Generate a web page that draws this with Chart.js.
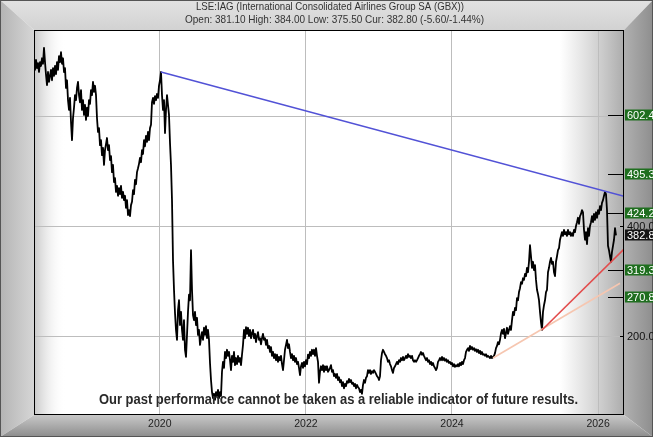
<!DOCTYPE html>
<html><head><meta charset="utf-8">
<script src="https://cdn.jsdelivr.net/npm/chart.js@4.4.1/dist/chart.umd.min.js"></script>
<style>html,body{margin:0;padding:0;background:#fff;}canvas{display:block;}</style>
</head><body>
<canvas id="c" width="653" height="437"></canvas>
<script>
// ---- data ----
const titleText = 'LSE:IAG (International Consolidated Airlines Group SA (GBX))';
const subtitleText = 'Open: 381.10 High: 384.00 Low: 375.50 Cur: 382.80 (-5.60/-1.44%)';
const disclaimerText = 'Our past performance cannot be taken as a reliable indicator of future results.';

const START_YEAR = 2018.2779;   // date of first sample, decimal year
const STEP_DAYS = 5;            // samples every 5 calendar days

const prices2018 = [698,684,702,687,696,680,698,691,705,695,724,698,675,656,680,662,673,684,665,687,673,691,676,698,684,709,698,716,695,705,680,687,651,665,629,611,633,589,556,596,615,638,629,651,662,638,625,647,611,629,602,620,593];
const prices2019 = [615,600,629,622,647,638,662,644,655,638,596,571,578,547,556,529,542,511,538,549,560,538,547,520,527,498,511,480,487,462,473,455,469,458,473,451,462,447,455,433,447,420,429,418,438,444,465,458,484,476,498,505,513,524,516,538,531,556,545,564,553,571,556,578,584,625,633,622,636,629,640,633,655];
const prices2020 = [665,680,638,611,629,569,611,638,620,602,551,511,447,338,284,242,211,193,247,265,220,244,211,193,229,175,162,202,244,275,265,356,284,238,229,244,220,233,202,211,184,196,207,193,215,202,218,196,211,193,151,120,98,87,95,84,98,91,102,87,98,91,135,153,142,171,160,175,164,171,156,138,164];
const prices2021 = [153,171,147,160,149,164,153,160,147,166,184,211,196,216,204,215,200,211,196,205,211,196,204,189,200,207,193,196,185,196,204,193,196,184,193,178,182,171,180,164,171,160,167,156,166,153,162,156,164,149,138,156,175,184,193,178,185,171,160,167,156,164,153,160,149,153,142,129,145,151,142,153,145];
const prices2022 = [156,149,166,160,171,164,175,167,175,164,178,164,153,115,135,145,138,147,135,145,138,145,135,138,142,147,135,138,127,131,124,131,120,125,116,120,109,116,105,113,109,118,115,122,116,120,113,115,109,113,105,111,107,105,98,102,95,111,120,115,124,127,138,133,138,131,136,133,138,135,131,127,125];
const prices2023 = [120,127,156,169,175,171,167,164,160,153,156,149,145,138,133,142,145,149,153,149,156,153,160,156,162,156,160,164,160,167,162,164,160,164,156,153,156,153,156,160,164,167,171,166,169,164,160,156,160,153,156,149,153,147,151,145,142,138,142,153,156,160,156,162,156,160,155,158,153,156,151,153,149];
const prices2024 = [151,145,149,144,147,145,149,145,151,147,153,149,156,160,171,175,178,173,182,176,180,175,178,173,176,171,175,169,173,167,171,166,167,164,167,162,164,162,160,164,160,162,164,169,178,182,189,185,193,205,211,204,213,196,205,215,204,211,218,211,229,244,238,251,247,269,265,280,287,298,295,305,302];
const prices2025 = [313,309,324,316,335,365,345,324,335,320,329,302,284,276,265,244,225,211,244,256,265,280,284,316,324,335,342,331,335,316,309,335,345,356,360,375,382,389,382,393,385,389,382,393,385,389,382,387,382,393,389,400,407,415,404,418,422,429,425,393,375,389,367,396,382,400,407,418,407,422,411,425,415];
const prices2026 = [429,422,436,429,442,447,455,462,458,429,364,356,345,335,353,364,375,396,382.8];

const yearTicks = [2020, 2022, 2024, 2026];
const priceGrid = [200, 400, 600];
const gridLabels = [400.0, 200.0];
const levelLabels = [602.4, 495.3, 424.2, 319.3, 270.8];
const currentPrice = 382.8;

// trend lines: [startYear, startPrice, endYear, endPrice]
const blueTrend = [2020.016, 680, 2026.355, 454];
const redTrend = [2025.232, 211, 2026.355, 358];
const peachTrend = [2024.561, 160, 2026.300, 296];

const X_MIN = 2018.2779, X_MAX = 2026.3546;
const Y_MIN = 56.4, Y_MAX = 756.4;

// ---- build ----
const prices = [].concat(prices2018, prices2019, prices2020, prices2021, prices2022, prices2023, prices2024, prices2025, prices2026);
const pricePoints = prices.map((p, i) => ({ x: START_YEAR + i * STEP_DAYS / 365.25, y: p }));
const seg = t => [{ x: t[0], y: t[1] }, { x: t[2], y: t[3] }];

const W = 653, H = 437;

function fitText(ctx, text, cx, cy, width) {
  const tw = ctx.measureText(text).width;
  ctx.save();
  ctx.translate(cx, cy);
  ctx.scale(width / tw, 1);
  ctx.textAlign = 'center';
  ctx.fillText(text, 0, 0);
  ctx.restore();
}

const framePlugin = {
  id: 'frame',
  beforeDraw(chart) {
    const ctx = chart.ctx, a = chart.chartArea;
    const L = a.left, T = a.top, R = a.right, B = a.bottom;
    ctx.save();
    let g = ctx.createLinearGradient(0, 0, 0, T);
    g.addColorStop(0, '#e2e2e2'); g.addColorStop(1, '#d2d2d2');
    ctx.fillStyle = g;
    ctx.beginPath(); ctx.moveTo(0, 0); ctx.lineTo(W, 0); ctx.lineTo(R, T); ctx.lineTo(L, T); ctx.closePath(); ctx.fill();
    g = ctx.createLinearGradient(0, 0, L, 0);
    g.addColorStop(0, '#b4b4b4'); g.addColorStop(1, '#d6d6d6');
    ctx.fillStyle = g;
    ctx.beginPath(); ctx.moveTo(0, 0); ctx.lineTo(L, T); ctx.lineTo(L, B); ctx.lineTo(0, H); ctx.closePath(); ctx.fill();
    g = ctx.createLinearGradient(R, 0, W, 0);
    g.addColorStop(0, '#b0b0b0'); g.addColorStop(1, '#8e8e8e');
    ctx.fillStyle = g;
    ctx.beginPath(); ctx.moveTo(W, 0); ctx.lineTo(R, T); ctx.lineTo(R, B); ctx.lineTo(W, H); ctx.closePath(); ctx.fill();
    g = ctx.createLinearGradient(0, B, 0, H);
    g.addColorStop(0, '#c8c8c8'); g.addColorStop(1, '#8c8c8c');
    ctx.fillStyle = g;
    ctx.beginPath(); ctx.moveTo(0, H); ctx.lineTo(L, B); ctx.lineTo(R, B); ctx.lineTo(W, H); ctx.closePath(); ctx.fill();
    ctx.strokeStyle = '#555'; ctx.lineWidth = 1;
    ctx.strokeRect(0.5, 0.5, W - 1, H - 1);
    ctx.fillStyle = '#ffffff';
    ctx.fillRect(L, T, R - L, B - T);
    g = ctx.createLinearGradient(L, 0, L + 32, 0);
    g.addColorStop(0, 'rgba(200,200,200,1)'); g.addColorStop(1, 'rgba(255,255,255,0)');
    ctx.fillStyle = g; ctx.fillRect(L, T, 32, B - T);
    g = ctx.createLinearGradient(R - 64, 0, R, 0);
    g.addColorStop(0, 'rgba(184,184,184,0)'); g.addColorStop(1, 'rgba(172,172,172,1)');
    ctx.fillStyle = g; ctx.fillRect(R - 64, T, 64, B - T);
    ctx.restore();
  },
  afterDraw(chart) {
    const ctx = chart.ctx, a = chart.chartArea;
    const xs = chart.scales.x, ys = chart.scales.y;
    ctx.save();
    ctx.strokeStyle = '#000'; ctx.lineWidth = 1;
    ctx.strokeRect(a.left + 0.5, a.top + 0.5, a.right - a.left - 1, a.bottom - a.top - 1);

    ctx.font = '11px "Liberation Sans", Arial, sans-serif';
    ctx.textBaseline = 'middle';
    ctx.textAlign = 'left';
    const lx = a.right + 1;
    gridLabels.forEach(v => {
      const y = Math.round(ys.getPixelForValue(v));
      ctx.fillStyle = '#000';
      ctx.fillRect(a.right - 4, y, 4, 1);
      ctx.fillStyle = '#111';
      ctx.fillText(v.toFixed(1), lx + 2, y + 0.5);
    });
    levelLabels.forEach(v => {
      const y = Math.round(ys.getPixelForValue(v));
      ctx.fillStyle = '#000';
      ctx.fillRect(a.right - 16, y, 16, 1);
      ctx.fillStyle = '#1f6e1f';
      ctx.fillRect(lx, y - 5.5, W - lx, 11);
      ctx.fillStyle = '#ffffff';
      ctx.fillText(v.toFixed(1), lx + 2, y + 0.5);
    });
    {
      const y = Math.round(ys.getPixelForValue(currentPrice));
      ctx.fillStyle = '#141414';
      ctx.fillRect(lx, y - 5.5, W - lx, 11);
      ctx.fillStyle = '#ffffff';
      ctx.fillText(currentPrice.toFixed(1), lx + 2, y + 0.5);
    }
    ctx.textAlign = 'center';
    ctx.fillStyle = '#222';
    ctx.font = '10.5px "Liberation Sans", Arial, sans-serif';
    yearTicks.forEach(yr => {
      const x = xs.getPixelForValue(yr);
      ctx.fillText(String(yr), x, a.bottom + 9);
    });
    ctx.fillStyle = '#333';
    ctx.font = '10.5px "Liberation Sans", Arial, sans-serif';
    fitText(ctx, titleText, 330, 7.5, 268);
    fitText(ctx, subtitleText, 334.5, 20, 299);
    ctx.font = 'bold 14px "Liberation Sans", Arial, sans-serif';
    ctx.fillStyle = '#2a2a2a';
    fitText(ctx, disclaimerText, 338.5, 400, 479);
    ctx.restore();
  }
};

new Chart(document.getElementById('c'), {
  type: 'line',
  data: {
    datasets: [
      { data: seg(blueTrend), borderColor: '#5252d6', borderWidth: 1.6, pointRadius: 0 },
      { data: seg(redTrend), borderColor: '#e24c4c', borderWidth: 1.6, pointRadius: 0 },
      { data: seg(peachTrend), borderColor: '#f6c6b0', borderWidth: 1.6, pointRadius: 0 },
      { data: pricePoints, borderColor: '#000', borderWidth: 1.8, pointRadius: 0, borderJoinStyle: 'round' }
    ]
  },
  options: {
    responsive: false,
    animation: false,
    devicePixelRatio: 1,
    events: [],
    parsing: false,
    layout: { padding: { left: 34, top: 30, right: 29, bottom: 22 } },
    plugins: { legend: { display: false }, tooltip: { enabled: false }, title: { display: false } },
    elements: { line: { tension: 0 }, point: { radius: 0 } },
    scales: {
      x: {
        type: 'linear', min: X_MIN, max: X_MAX,
        grid: { color: '#bdbdbd', drawTicks: false, lineWidth: 1 },
        border: { display: false },
        ticks: { display: false },
        afterBuildTicks: s => { s.ticks = yearTicks.map(v => ({ value: v })); }
      },
      y: {
        type: 'linear', min: Y_MIN, max: Y_MAX,
        grid: { color: '#bdbdbd', drawTicks: false, lineWidth: 1 },
        border: { display: false },
        ticks: { display: false },
        afterBuildTicks: s => { s.ticks = priceGrid.map(v => ({ value: v })); }
      }
    }
  },
  plugins: [framePlugin]
});
</script>
</body></html>
